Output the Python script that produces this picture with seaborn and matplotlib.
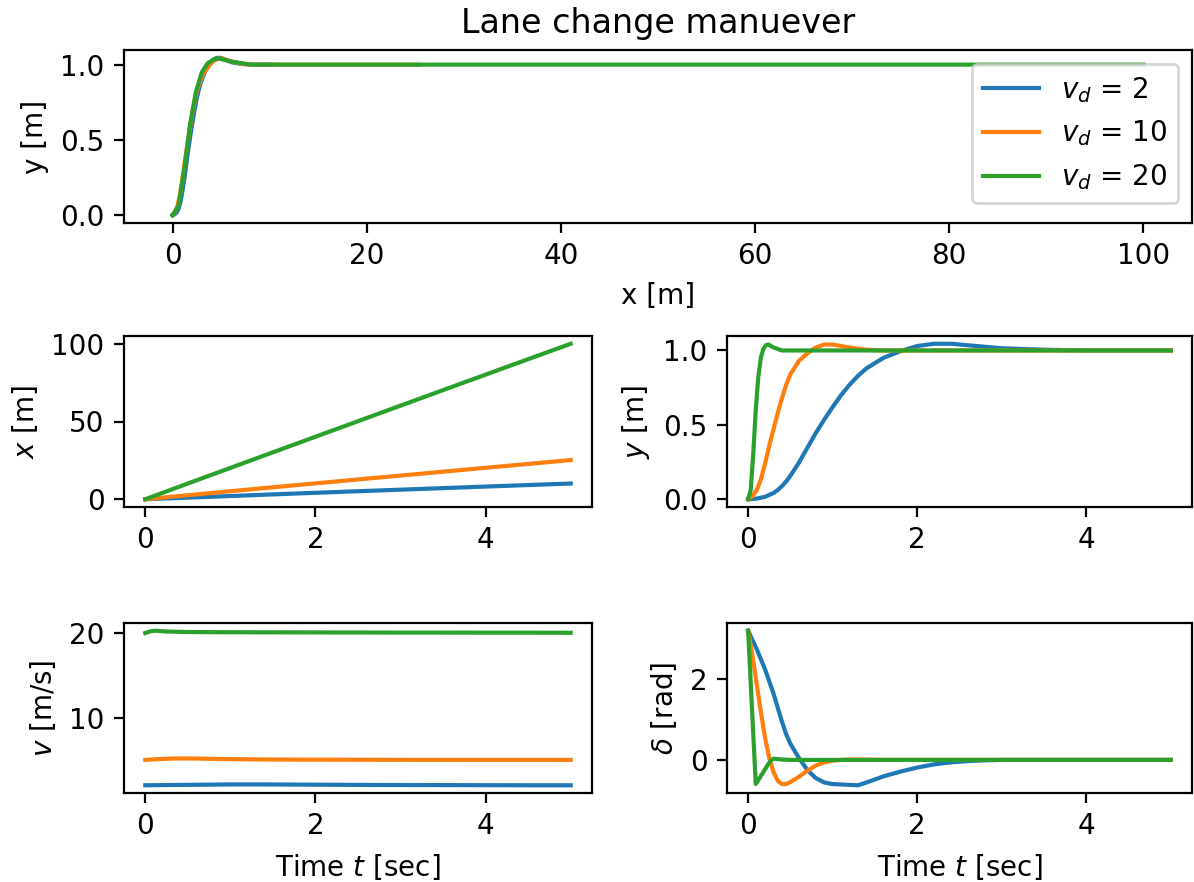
import numpy as np
import matplotlib
matplotlib.use("Agg")
import matplotlib.pyplot as plt
import seaborn as sns

# ---- data ----
labels = ["$v_d$ = 2", "$v_d$ = 10", "$v_d$ = 20"]

# v_d = 2
t_b = [0, 0.1, 0.2, 0.3, 0.35, 0.4, 0.45, 0.5, 0.6, 0.7, 0.8, 0.9, 1.0, 1.1, 1.2, 1.3, 1.4,
       1.6, 1.8, 2.0, 2.2, 2.4, 2.6, 2.8, 3.0, 3.5, 4.0, 4.5, 5.0]
x_b = [0, 0.2, 0.4, 0.61, 0.71, 0.81, 0.91, 1.01, 1.22, 1.43, 1.64, 1.85, 2.06, 2.27, 2.48, 2.69, 2.9,
       3.32, 3.73, 4.13, 4.54, 4.95, 5.35, 5.75, 6.15, 7.15, 8.15, 9.12, 10.1]
y_b = [0, 0.004, 0.016, 0.042, 0.062, 0.088, 0.12, 0.158, 0.245, 0.345, 0.445, 0.535, 0.62, 0.7, 0.77, 0.83, 0.88,
       0.95, 0.995, 1.03, 1.045, 1.045, 1.035, 1.025, 1.015, 1.005, 1.0, 1.0, 1.0]
v_b = [2.0, 2.01, 2.02, 2.03, 2.035, 2.04, 2.045, 2.05, 2.06, 2.07, 2.08, 2.09, 2.1, 2.1, 2.1, 2.1, 2.1,
       2.09, 2.08, 2.07, 2.06, 2.05, 2.04, 2.03, 2.03, 2.02, 2.01, 2.0, 2.0]
d_b = [3.21, 2.76, 2.25, 1.65, 1.3, 0.95, 0.64, 0.4, 0.05, -0.25, -0.45, -0.56, -0.6, -0.61, -0.62, -0.63, -0.56,
       -0.41, -0.29, -0.19, -0.11, -0.06, -0.03, -0.01, 0.0, 0.0, 0.0, 0.0, 0.0]

# v_d = 10
t_o = [0, 0.05, 0.1, 0.15, 0.2, 0.25, 0.3, 0.35, 0.4, 0.45, 0.5, 0.6, 0.7, 0.8, 0.9,
       1.0, 1.1, 1.2, 1.4, 1.6, 1.8, 2.0, 2.5, 3.0, 4.0, 5.0]
x_o = [0, 0.25, 0.5, 0.75, 1.01, 1.27, 1.53, 1.79, 2.05, 2.31, 2.57, 3.09, 3.6, 4.12, 4.63,
       5.14, 5.65, 6.16, 7.18, 8.19, 9.2, 10.21, 12.72, 15.22, 20.22, 25.2]
y_o = [0, 0.02, 0.06, 0.13, 0.24, 0.36, 0.47, 0.58, 0.68, 0.77, 0.84, 0.93, 0.98, 1.02, 1.04,
       1.04, 1.03, 1.02, 1.005, 1.0, 1.0, 1.0, 1.0, 1.0, 1.0, 1.0]
v_o = [5.0, 5.03, 5.06, 5.09, 5.11, 5.13, 5.15, 5.16, 5.17, 5.17, 5.17, 5.16, 5.14, 5.12, 5.1,
       5.09, 5.08, 5.07, 5.05, 5.04, 5.03, 5.03, 5.02, 5.01, 5.0, 5.0]
d_o = [3.21, 2.6, 1.9, 1.2, 0.55, 0.05, -0.3, -0.52, -0.6, -0.6, -0.55, -0.42, -0.27, -0.14, -0.06,
       -0.02, 0.0, 0.01, 0.01, 0.0, 0.0, 0.0, 0.0, 0.0, 0.0, 0.0]

# v_d = 20
t_g = [0, 0.03, 0.06, 0.09, 0.12, 0.15, 0.18, 0.21, 0.24, 0.27, 0.3, 0.35, 0.4, 0.5, 0.6,
       0.8, 1.0, 1.5, 2.0, 2.5, 3.0, 3.5, 4.0, 4.5, 5.0]
x_g = [0, 0.6, 1.2, 1.8, 2.41, 3.02, 3.63, 4.24, 4.85, 5.45, 6.06, 7.07, 8.08, 10.1, 12.11,
       16.13, 20.14, 30.18, 40.2, 50.2, 60.2, 70.2, 80.15, 90.1, 100.0]
y_g = [0, 0.06, 0.3, 0.6, 0.82, 0.95, 1.01, 1.035, 1.04, 1.03, 1.02, 1.01, 1.0, 1.0, 1.0,
       1.0, 1.0, 1.0, 1.0, 1.0, 1.0, 1.0, 1.0, 1.0, 1.0]
v_g = [20.0, 20.1, 20.2, 20.25, 20.27, 20.25, 20.22, 20.2, 20.18, 20.17, 20.16, 20.15, 20.14, 20.12, 20.11,
       20.1, 20.09, 20.08, 20.07, 20.06, 20.05, 20.05, 20.04, 20.04, 20.03]
d_g = [3.21, 1.94, 0.67, -0.6, -0.5, -0.4, -0.3, -0.2, -0.1, -0.01, 0.03, 0.02, 0.01, 0.0, 0.0,
       0.0, 0.0, 0.0, 0.0, 0.0, 0.0, 0.0, 0.0, 0.0, 0.0]

series = [
    (t_b, x_b, y_b, v_b, d_b),
    (t_o, x_o, y_o, v_o, d_o),
    (t_g, x_g, y_g, v_g, d_g),
]
colors = sns.color_palette("tab10", 3)

W, H = 1194, 882
fig = plt.figure(figsize=(W / 200, H / 200), dpi=200)

def box(l, t, r, b):
    return [l / W, 1 - b / H, (r - l) / W, (b - t) / H]

ax_top = fig.add_axes(box(124, 50, 1192, 223))
ax_x = fig.add_axes(box(124, 336, 592, 507))
ax_y = fig.add_axes(box(727, 336, 1192, 507))
ax_v = fig.add_axes(box(124, 623, 592, 793))
ax_d = fig.add_axes(box(727, 623, 1192, 793))

for (t, x, y, v, d), c, lab in zip(series, colors, labels):
    sns.lineplot(x=x, y=y, ax=ax_top, color=c, label=lab, sort=False, estimator=None)
    sns.lineplot(x=t, y=x, ax=ax_x, color=c, legend=False, sort=False, estimator=None)
    sns.lineplot(x=t, y=y, ax=ax_y, color=c, legend=False, sort=False, estimator=None)
    sns.lineplot(x=t, y=v, ax=ax_v, color=c, legend=False, sort=False, estimator=None)
    sns.lineplot(x=t, y=d, ax=ax_d, color=c, legend=False, sort=False, estimator=None)

ax_top.set_title("Lane change manuever")
ax_top.set_xlabel("x [m]")
ax_top.set_ylabel("y [m]")
ax_top.set_xticks([0, 20, 40, 60, 80, 100])
ax_top.set_yticks([0.0, 0.5, 1.0])
ax_top.legend(loc="upper right")

ax_x.set_ylabel("$x$ [m]")
ax_x.set_yticks([0, 50, 100])
ax_y.set_ylabel("$y$ [m]")
ax_y.set_yticks([0.0, 0.5, 1.0])
ax_v.set_ylabel("$v$ [m/s]")
ax_v.set_yticks([10, 20])
ax_d.set_ylabel(r"$\delta$ [rad]")
ax_d.set_yticks([0, 2])
for ax in (ax_x, ax_y, ax_v, ax_d):
    ax.set_xticks([0, 2, 4])
ax_v.set_xlabel("Time $t$ [sec]")
ax_d.set_xlabel("Time $t$ [sec]")

fig.savefig("out.png", dpi=200)
